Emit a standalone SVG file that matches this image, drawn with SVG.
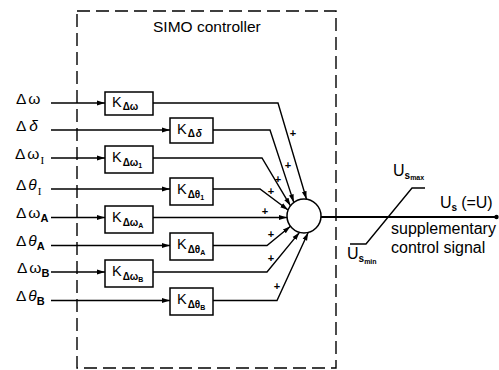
<svg xmlns="http://www.w3.org/2000/svg" width="499" height="370" viewBox="0 0 499 370">
<style>
.ln{stroke:#000;stroke-width:1.4;fill:none}
.bx{fill:#fff;stroke:#000;stroke-width:1.5}
.t{font-family:"Liberation Sans",Arial,sans-serif;fill:#000}
.lbl{font-size:15.5px}
.k{font-size:14.5px}
.sb{font-size:10px;font-weight:bold}
.ss{font-size:7px;font-weight:bold}
.pl{font-size:11px;font-weight:bold;text-anchor:middle}
.it{font-style:italic}
.rt{font-size:16px}
</style>
<defs>
<marker id="ah" viewBox="0 0 8 6" refX="8" refY="3" markerWidth="8" markerHeight="6" markerUnits="userSpaceOnUse" orient="auto"><path d="M0,0.6 L8,3 L0,5.4 z" fill="#000"/></marker>
</defs>
<rect width="499" height="370" fill="#fff"/>

<g id="controller-frame">
<path class="ln" d="M77,11 H336 V368 H77 Z" stroke-dasharray="13,6"/>
<text class="t" x="153" y="32" font-size="15.5">SIMO controller</text>
</g>

<g id="connectors">
<path class="ln" d="M51,103 H105" marker-end="url(#ah)"/>
<path class="ln" d="M51,130 H170" marker-end="url(#ah)"/>
<path class="ln" d="M51,158 H105" marker-end="url(#ah)"/>
<path class="ln" d="M51,189 H170" marker-end="url(#ah)"/>
<path class="ln" d="M51,217.5 H105" marker-end="url(#ah)"/>
<path class="ln" d="M51,245.5 H170" marker-end="url(#ah)"/>
<path class="ln" d="M51,272 H105" marker-end="url(#ah)"/>
<path class="ln" d="M51,300.5 H170" marker-end="url(#ah)"/>

<path class="ln" d="M153,103 H278 L306.5,199.2" marker-end="url(#ah)"/>
<path class="ln" d="M213,130 H270 L293.8,202.4" marker-end="url(#ah)"/>
<path class="ln" d="M153,158 H262 L290.5,205.8" marker-end="url(#ah)"/>
<path class="ln" d="M213,189 H260 L288.1,210" marker-end="url(#ah)"/>
<path class="ln" d="M153,217.5 H287" marker-end="url(#ah)"/>
<path class="ln" d="M213,245.5 H267 L290.5,226.3" marker-end="url(#ah)"/>
<path class="ln" d="M153,272 H267 L299.5,232.4" marker-end="url(#ah)"/>
<path class="ln" d="M213,300.5 H277 L308.2,232.5" marker-end="url(#ah)"/>

<path d="M321,217 H496" stroke="#000" stroke-width="2" fill="none"/>
<circle cx="496.5" cy="217" r="2.2" fill="#000"/>
</g>

<g id="plus-signs">
<text class="t pl" x="293" y="137">+</text>
<text class="t pl" x="288" y="169">+</text>
<text class="t pl" x="278" y="183">+</text>
<text class="t pl" x="271" y="195">+</text>
<text class="t pl" x="265" y="215">+</text>
<text class="t pl" x="271" y="238">+</text>
<text class="t pl" x="271" y="262">+</text>
<text class="t pl" x="277" y="290">+</text>
</g>

<g id="inputs">
<text class="t lbl" x="16" y="103.5">Δ<tspan dx="2">ω</tspan></text>
<text class="t lbl" x="16" y="130.5">Δ<tspan dx="3" class="it">δ</tspan></text>
<text class="t lbl" x="15" y="158.5">Δ<tspan dx="2">ω</tspan><tspan font-size="11" font-family="Liberation Serif,serif" dx="1" dy="5">I</tspan></text>
<text class="t lbl" x="16" y="189.5">Δ<tspan dx="2" class="it">θ</tspan><tspan font-size="11" font-family="Liberation Serif,serif" dx="1" dy="5">I</tspan></text>
<text class="t lbl" x="16" y="217.5">Δ<tspan dx="2">ω</tspan><tspan font-size="11" font-weight="bold" dy="4">A</tspan></text>
<text class="t lbl" x="16" y="245.5">Δ<tspan dx="2" class="it">θ</tspan><tspan font-size="11" font-weight="bold" dy="4">A</tspan></text>
<text class="t lbl" x="17" y="272.5">Δ<tspan dx="2">ω</tspan><tspan font-size="11" font-weight="bold" dy="4">B</tspan></text>
<text class="t lbl" x="16" y="300.5">Δ<tspan dx="2" class="it">θ</tspan><tspan font-size="11" font-weight="bold" dy="4">B</tspan></text>
</g>

<g id="gain-dw">
<rect class="bx" x="105" y="92" width="48" height="23"/>
<text class="t k" x="112" y="107">K<tspan class="sb" dx="1" dy="3">Δω</tspan></text>
</g>
<g id="gain-dd">
<rect class="bx" x="170" y="118" width="43" height="25"/>
<text class="t k" x="177" y="134">K<tspan class="sb" dx="1" dy="3">Δ</tspan><tspan class="sb it" dx="1">δ</tspan></text>
</g>
<g id="gain-dwI">
<rect class="bx" x="105" y="146" width="48" height="27"/>
<text class="t k" x="112" y="162">K<tspan class="sb" dx="1" dy="4">Δω</tspan><tspan class="ss" dy="2">1</tspan></text>
</g>
<g id="gain-dthI">
<rect class="bx" x="170" y="178" width="43" height="27"/>
<text class="t k" x="177" y="194">K<tspan class="sb" dx="1" dy="4">Δθ</tspan><tspan class="ss" dy="2">1</tspan></text>
</g>
<g id="gain-dwA">
<rect class="bx" x="105" y="206" width="48" height="27"/>
<text class="t k" x="112" y="222">K<tspan class="sb" dx="1" dy="4">Δω</tspan><tspan class="ss" dy="2">A</tspan></text>
</g>
<g id="gain-dthA">
<rect class="bx" x="170" y="233" width="43" height="27"/>
<text class="t k" x="177" y="249">K<tspan class="sb" dx="1" dy="4">Δθ</tspan><tspan class="ss" dy="2">A</tspan></text>
</g>
<g id="gain-dwB">
<rect class="bx" x="105" y="260" width="48" height="27"/>
<text class="t k" x="112" y="276">K<tspan class="sb" dx="1" dy="4">Δω</tspan><tspan class="ss" dy="2">B</tspan></text>
</g>
<g id="gain-dthB">
<rect class="bx" x="170" y="288" width="43" height="27"/>
<text class="t k" x="177" y="304">K<tspan class="sb" dx="1" dy="4">Δθ</tspan><tspan class="ss" dy="2">B</tspan></text>
</g>

<g id="summer">
<circle cx="304" cy="216" r="17" fill="#fff" stroke="#000" stroke-width="1.5"/>
</g>

<g id="limiter">
<path class="ln" d="M350,244 H366 L412,188 H425"/>
<text class="t" x="393" y="176" font-size="16">U<tspan class="sb" dy="3">s</tspan><tspan class="ss" dy="1">max</tspan></text>
<text class="t" x="347" y="259" font-size="16">U<tspan class="sb" dy="3">s</tspan><tspan class="ss" dy="2">min</tspan></text>
</g>

<g id="output">
<text class="t" x="440" y="208" font-size="16">U<tspan class="sb" dy="3">s</tspan><tspan dx="4" dy="-3">(=U)</tspan></text>
<text class="t rt" x="391" y="234">supplementary</text>
<text class="t rt" x="391" y="253">control signal</text>
</g>
</svg>
